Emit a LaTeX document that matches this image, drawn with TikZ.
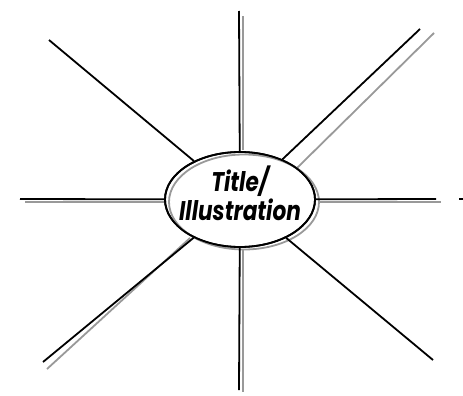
\documentclass[tikz,border=0pt]{standalone}
\usepackage{fontspec}
\setmainfont{Poppins}
\usetikzlibrary{backgrounds,shapes.geometric}
\tikzset{
  blk/.style={draw=black, line width=1.8pt},
  gry/.style={draw=black!40, line width=1.8pt},
  hub/.style={ellipse, draw=black, line width=1.8pt, fill=white,
    minimum width=150pt, minimum height=95pt, inner sep=0pt},
  lbl/.style={align=center, inner sep=0pt,
    font=\fontsize{27}{29}\selectfont\bfseries\itshape}
}
\newcommand{\narrow}[1]{\scalebox{0.8}[1]{#1}}
\begin{document}
\begin{tikzpicture}[x=1pt,y=-1pt]
\useasboundingbox (0,0) rectangle (463,396);
% outer ends of the black spokes
\coordinate (n)  at (239,11);
\coordinate (s)  at (239,390);
\coordinate (w)  at (20,199);
\coordinate (e)  at (436,199);
\coordinate (nw) at (49,40);
\coordinate (ne) at (420,29);
\coordinate (sw) at (43,362);
\coordinate (se) at (433,360);
% gray shadow spokes
\coordinate (gn0) at (243,150); \coordinate (gn) at (243,16);
\coordinate (gs0) at (243,250); \coordinate (gs) at (243,392);
\coordinate (gw0) at (168,202); \coordinate (gw) at (25,202);
\coordinate (ge0) at (318,202); \coordinate (ge) at (441,202);
\coordinate (gne0) at (297,168); \coordinate (gne) at (434,33);
\coordinate (gsw0) at (190,238); \coordinate (gsw) at (47,369);
\coordinate (tick0) at (459,199); \coordinate (tick1) at (463,199);

\node[hub] (c) at (240,199.5) {};
\begin{scope}[on background layer]
  \draw[gry] (gn0) -- (gn);
  \draw[gry] (gs0) -- (gs);
  \draw[gry] (gw0) -- (gw);
  \draw[gry] (ge0) -- (ge);
  \draw[gry] (gne0) -- (gne);
  \draw[gry] (gsw0) -- (gsw);
\end{scope}
\node[hub, draw=black!40, fill=none] (cg) at (244,202) {};
\node[hub, fill=none] (c2) at (240,199.5) {};
\node[lbl] (t) at (240,193) {\narrow{Title/}\\\narrow{Illustration}};
\foreach \p in {n,s,w,e,nw,ne,sw,se}
  \draw[blk] (c) -- (\p);
\draw[blk] (tick0) -- (tick1);
\end{tikzpicture}
\end{document}
